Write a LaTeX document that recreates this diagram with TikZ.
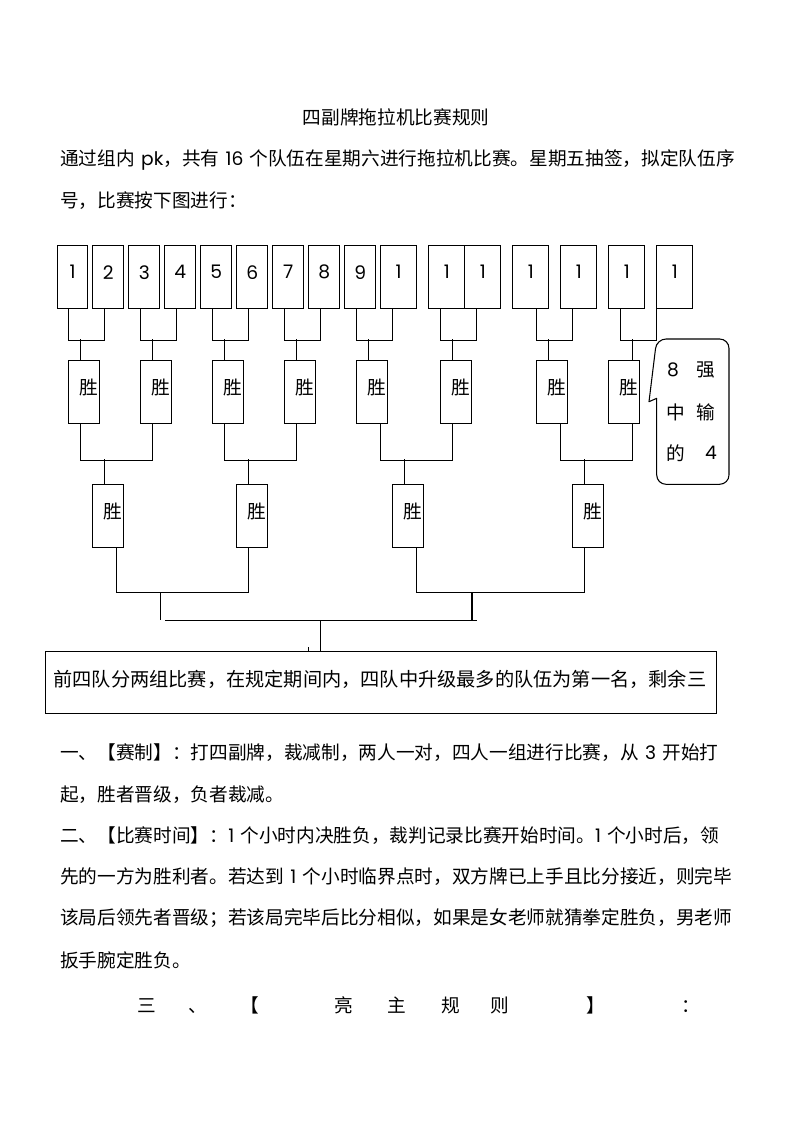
\documentclass[tikz,border=0pt]{standalone}
\usepackage{fontspec}
\setmainfont{Noto Sans CJK SC}
\newfontfamily\lat{Poppins}
\XeTeXlinebreaklocale "zh"
\XeTeXlinebreakskip=0pt plus 3pt minus 1pt
\newcommand{\body}{\fontsize{14pt}{16pt}\selectfont}
\newcommand{\boxfont}{\fontsize{14.4pt}{16pt}\selectfont}
\tikzset{
    wire/.style={line width=0.8pt},
    teambox/.style={
        draw,
        wire,
        anchor=north west,
        minimum height=47pt,
        inner sep=0pt
    },
    winbox/.style={
        draw,
        wire,
        anchor=north west,
        minimum width=23.25pt,
        minimum height=47pt,
        inner sep=0pt
    },
    txt/.style={inner sep=0pt, font=\body},
    bodyline/.style={txt, anchor=west, text width=510pt}
}
% one justified line of the page
\newcommand{\jline}[3] {
    \node[bodyline] (#1) at (60,#2) {\noindent\parfillskip=0pt #3};
}

\begin{document}
\begin{tikzpicture}[x=0.75pt,y=-0.75pt]
    \useasboundingbox (0,0) rectangle (793,1122);

    % heading and opening lines
    \node[txt] (title) at (396,117) {四副牌拖拉机比赛规则};
    \jline{p1}{160}{通过组内 {\lat pk}，共有 {\lat 16} 个队伍在星期六进行拖拉机比赛。星期五抽签，拟定队伍序}
    \node[txt,anchor=west] (p2) at (60,201) {号，比赛按下图进行：};

    % sixteen teams
    \foreach \n/\x/\w/\l in {
        1/56.7/23pt/1, 2/92.3/23.25pt/2, 3/128.3/23.25pt/3, 4/164.3/23.25pt/4,
        5/200.3/23.25pt/5, 6/236.3/23.25pt/6, 7/272.3/23.25pt/7, 8/308.3/23.25pt/8,
        9/344.3/23.25pt/9, 10/380.3/26.8pt/1, 11/428.3/27pt/1, 12/464.3/27pt/1,
        13/512.3/27pt/1, 14/560.3/27pt/1, 15/608.3/27pt/1, 16/656.3/27pt/1}{
        \node[teambox,minimum width=\w] (t\n) at (\x,245) {};
        \node[txt] (t\n-n) at ([yshift=3.5pt]t\n.center) {\lat \l};
    }

    % winners
    \foreach \n/\x/\y in {
        w1/68.3/360, w2/140.3/360, w3/212.3/360, w4/284.3/360,
        w5/356.3/360, w6/440.3/360, w7/536.3/360, w8/608.3/360,
        s1/92.3/484.3, s2/236.3/484.3, s3/392.3/484.3, s4/572.3/484.3}{
        \node[winbox] (\n) at (\x,\y) {};
        \node[txt] (\n-t) at ([xshift=3.5pt,yshift=3.4pt]\n.center) {胜};
    }

    % first round
    \foreach \a/\b/\oa/\ob/\w/\ow in {
        t1/t2/9pt/9pt/w1/9pt, t3/t4/9pt/9pt/w2/9pt, t5/t6/9pt/9pt/w3/9pt,
        t7/t8/9pt/9pt/w4/9pt, t9/t10/9pt/9pt/w5/9pt, t11/t12/9pt/9pt/w6/9pt,
        t13/t14/18pt/9pt/w7/9pt, t15/t16/9pt/0pt/w8/18pt}{
        \draw[wire] ([xshift=\oa]\a.south west) -- ++(0,31.3) -| ([xshift=\ob]\b.south west);
        \draw[wire] ([xshift=\ow]\w.north west) -- ++(0,-21);
    }

    % second round
    \foreach \a/\b/\oa/\ob/\s in {
        w1/w2/9pt/9pt/s1, w3/w4/9pt/9pt/s2, w5/w6/18pt/9pt/s3, w7/w8/18pt/18pt/s4}{
        \draw[wire] ([xshift=\oa]\a.south west) -- ++(0,37) -| ([xshift=\ob]\b.south west);
        \draw[wire] ([xshift=9pt]\s.north west) -- ++(0,-25);
    }

    % semi finals
    \draw[wire] ([xshift=18pt]s1.south west) -- ++(0,44.3) coordinate (j1) -| ([xshift=9pt]s2.south west);
    \draw[wire] ([xshift=18pt]s3.south west) -- ++(0,44.3) coordinate (j2) -| ([xshift=9pt]s4.south west);
    \draw[wire] (j1) ++(44,0) -- ++(0,28);
    \draw[wire] (j2) ++(55.7,0) -- ++(0,29);
    \coordinate (h1) at (165,620.3);
    \coordinate (h2) at (476.7,620.3);
    \draw[wire] (h1) -- (h2);

    % final four
    \node[draw,wire,anchor=north west,minimum width=503.25pt,minimum height=46.7pt,inner sep=0pt] (fin) at (45,651) {};
    \node[txt,font=\boxfont] (fin-t) at (380,679.3) {前四队分两组比赛，在规定期间内，四队中升级最多的队伍为第一名，剩余三};
    \draw[wire] ([xshift=206.6pt]fin.north west) -- ++(0,-30.7);
    \draw[wire] ([xshift=197.5pt]fin.north west) -- ++(0,-4.3);

    % callout
    \draw[wire,rounded corners=7pt] (656.7,398.3) -- (656.7,484.3) -- (729,484.3) -- (729,339) -- (656.7,339) -- (649,401.7);
    \draw[wire,line cap=round] (649,401.7) -- (656.7,398.3);
    \foreach \c/\x/\y [count=\i] in {
        {\lat 8}/673/370, 强/706/370, 中/676/412, 输/706/412, 的/676/453, {\lat 4}/711/453}
        \node[txt] (c\i) at (\x,\y) {\c};

    % rules
    \jline{r1}{753}{一、【赛制】：打四副牌，裁减制，两人一对，四人一组进行比赛，从 {\lat 3} 开始打}
    \node[txt,anchor=west] (r2) at (60,795) {起，胜者晋级，负者裁减。};
    \jline{r3}{836}{二、【比赛时间】：{\lat 1} 个小时内决胜负，裁判记录比赛开始时间。{\lat 1} 个小时后，领}
    \jline{r4}{877}{先的一方为胜利者。若达到 {\lat 1} 个小时临界点时，双方牌已上手且比分接近，则完毕}
    \jline{r5}{918}{该局后领先者晋级；若该局完毕后比分相似，如果是女老师就猜拳定胜负，男老师}
    \node[txt,anchor=west] (r6) at (60,960) {扳手腕定胜负。};
    \foreach \c/\x [count=\i] in {
        三/147, 、/198, 【/250, 亮/344, 主/397, 规/451, 则/500, 】/596, ：/691}
        \node[txt,anchor=base] (h\i) at (\x,1012) {\c};
\end{tikzpicture}
\end{document}
